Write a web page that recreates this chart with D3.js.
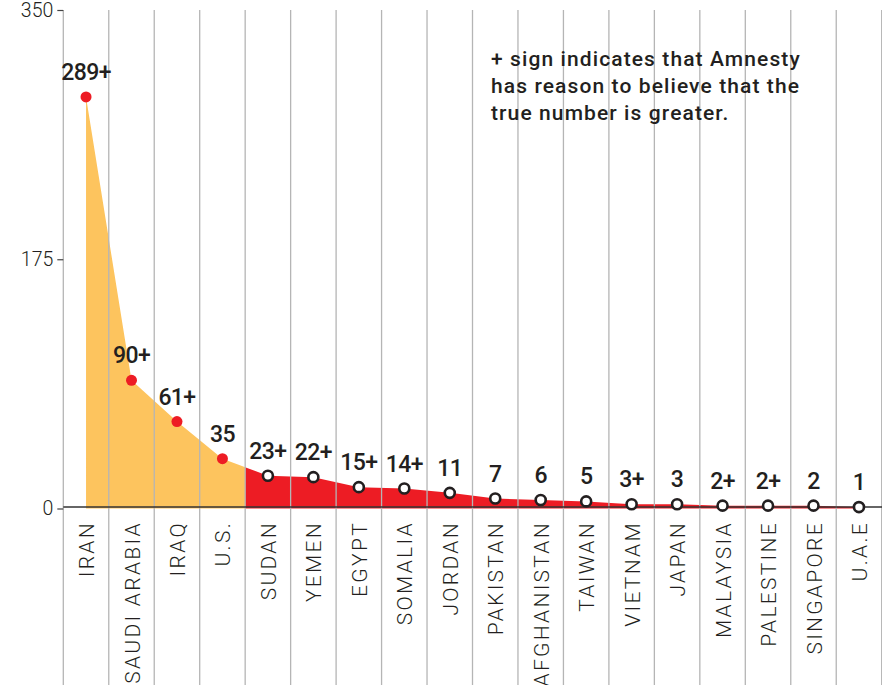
<!DOCTYPE html>
<html>
<head>
<meta charset="utf-8">
<script src="https://cdn.jsdelivr.net/npm/d3@7"></script>
<style>
  body { margin: 0; background: #fff; }
  svg { display: block; }
</style>
</head>
<body>
<svg class="canvas"></svg>
<script>
// Data: executions by country (Amnesty figures)
const countries = ['IRAN', 'SAUDI ARABIA', 'IRAQ', 'U.S.', 'SUDAN', 'YEMEN', 'EGYPT', 'SOMALIA',
    'JORDAN', 'PAKISTAN', 'AFGHANISTAN', 'TAIWAN', 'VIETNAM', 'JAPAN', 'MALAYSIA',
    'PALESTINE', 'SINGAPORE', 'U.A.E'];
const executions = [289, 90, 61, 35, 23, 22, 15, 14, 11, 7, 6, 5, 3, 3, 2, 2, 2, 1];
// true where Amnesty believes the real number is higher
const plusSign = [true, true, true, false, true, true, true, true, false, false, false, false,
    true, false, true, true, false, false];
const topCountries = ['IRAN', 'SAUDI ARABIA', 'IRAQ', 'U.S.'];
const yTicks = [0, 175, 350];
const noteLines = ['+ sign indicates that Amnesty', 'has reason to believe that the',
    'true number is greater.'];

const wWidth = 882;
const wHeight = 685;
const margin = {top: 10, left: 63.3, right: 0.3, bottom: 177};

const orange = '#fdc45e';
const red = '#ed1c24';
const ink = '#231f20';

const rows = countries.map((c, i) => ({country: c, value: executions[i], plus: plusSign[i]}));

const svg = d3.select('.canvas')
    .attr('width', wWidth)
    .attr('height', wHeight);

// Scales
const xScale = d3.scaleBand()
    .domain(countries)
    .range([margin.left, wWidth - margin.right])
    .padding(0);
const yScale = d3.scaleLinear()
    .domain([0, 350])
    .range([508.5, margin.top]);

const cx = d => xScale(d.country) + xScale.bandwidth() / 2;
const splitX = xScale('SUDAN');

// Area, orange for the top four, red for the rest
const defs = svg.append('defs');
defs.append('clipPath').attr('id', 'clip-top')
    .append('rect').attr('x', 0).attr('y', 0).attr('width', splitX).attr('height', wHeight);
defs.append('clipPath').attr('id', 'clip-rest')
    .append('rect').attr('x', splitX).attr('y', 0).attr('width', wWidth - splitX).attr('height', wHeight);

const area = d3.area()
    .x(cx)
    .y0(yScale(0))
    .y1(d => yScale(d.value));

svg.append('path')
    .datum(rows)
    .attr('d', area)
    .attr('fill', orange)
    .attr('clip-path', 'url(#clip-top)');
svg.append('path')
    .datum(rows)
    .attr('d', area)
    .attr('fill', red)
    .attr('clip-path', 'url(#clip-rest)');

// Vertical grid lines at band edges
const edges = countries.map(c => xScale(c)).concat([xScale.range()[1]]);
svg.append('g')
    .selectAll('line')
    .data(edges)
    .enter()
    .append('line')
    .attr('x1', d => d)
    .attr('x2', d => d)
    .attr('y1', margin.top)
    .attr('y2', wHeight)
    .attr('stroke', '#b5b5b5')
    .attr('stroke-width', 1.3);

// Y axis (ticks only, the first grid line is the axis)
const yAxis = d3.axisLeft(yScale)
    .tickValues(yTicks)
    .tickSize(6)
    .tickPadding(4);
const yAxisGroup = svg.append('g')
    .attr('transform', `translate(${margin.left}, 0)`)
    .call(yAxis);
yAxisGroup.select('.domain').remove();
yAxisGroup.selectAll('.tick line').attr('stroke', '#444').attr('stroke-width', 1.2);
yAxisGroup.selectAll('.tick text')
    .attr('fill', ink)
    .style('font-family', 'Roboto')
    .style('font-weight', 300)
    .style('font-size', '19.5px');

// Zero line
svg.append('line')
    .attr('x1', margin.left)
    .attr('x2', wWidth)
    .attr('y1', yScale(0) - 1.5)
    .attr('y2', yScale(0) - 1.5)
    .attr('stroke', '#333')
    .attr('stroke-width', 1.6);

// Points
svg.append('g')
    .selectAll('circle')
    .data(rows)
    .enter()
    .append('circle')
    .attr('cx', cx)
    .attr('cy', d => yScale(d.value))
    .attr('r', d => topCountries.includes(d.country) ? 5.5 : 5)
    .attr('fill', d => topCountries.includes(d.country) ? red : '#fff')
    .attr('stroke', d => topCountries.includes(d.country) ? 'none' : ink)
    .attr('stroke-width', 2.6);

// Value labels
svg.append('g')
    .selectAll('text')
    .data(rows)
    .enter()
    .append('text')
    .attr('x', cx)
    .attr('y', d => yScale(d.value) - 17)
    .attr('text-anchor', 'middle')
    .attr('fill', ink)
    .style('font-family', 'Roboto')
    .style('font-weight', 500)
    .style('font-size', '23px')
    .style('letter-spacing', '-0.6px')
    .text(d => d.value + (d.plus ? '+' : ''));

// Country labels, rotated
svg.append('g')
    .selectAll('text')
    .data(rows)
    .enter()
    .append('text')
    .attr('transform', d => `translate(${cx(d) + 8}, 521) rotate(-90)`)
    .attr('text-anchor', 'end')
    .attr('fill', ink)
    .style('font-family', 'Roboto')
    .style('font-weight', 300)
    .style('font-size', '21px')
    .style('letter-spacing', '2.3px')
    .text(d => d.country);

// Note
svg.append('text')
    .attr('x', 491)
    .attr('y', 66)
    .attr('fill', ink)
    .style('font-family', 'Roboto')
    .style('font-weight', 500)
    .style('font-size', '21px')
    .style('letter-spacing', '1.1px')
    .selectAll('tspan')
    .data(noteLines)
    .enter()
    .append('tspan')
    .attr('x', 491)
    .attr('dy', (d, i) => i === 0 ? 0 : 27)
    .text(d => d);
</script>
</body>
</html>
